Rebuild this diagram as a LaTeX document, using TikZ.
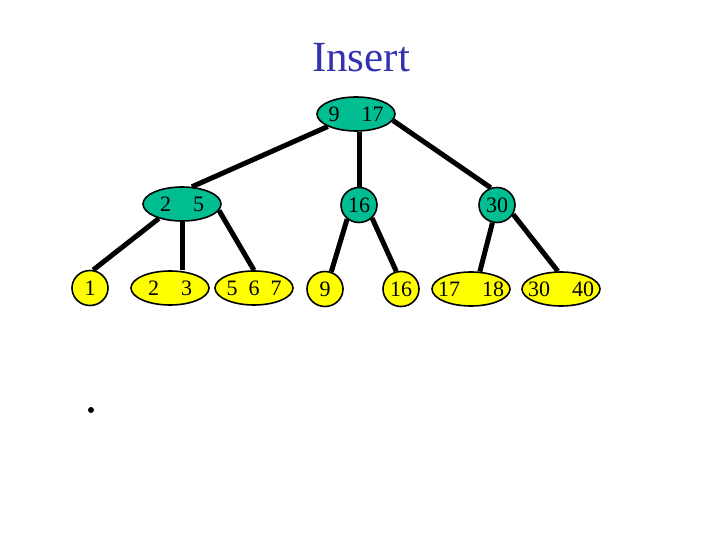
\documentclass[tikz,border=0pt]{standalone}
\usepackage{fontspec}
\setmainfont{Liberation Serif}
\usepackage{tikz}
\usetikzlibrary{shapes.geometric}
\definecolor{titleblue}{RGB}{51,51,175}
\definecolor{keygreen}{RGB}{0,190,145}
\definecolor{leafyellow}{RGB}{255,255,0}

\begin{document}
\begin{tikzpicture}[node distance=84pt]
\tikzstyle{inner} = [ellipse, minimum width=78pt, minimum height=34pt, inner xsep=-6pt, inner ysep=0pt, text centered, draw=black, line width=1.6pt, fill=keygreen, font=\fontsize{22}{24}\selectfont]
\tikzstyle{leaf} = [inner, fill=leafyellow]
\tikzstyle{small} = [minimum width=36pt, minimum height=35pt]
\useasboundingbox (0,0) rectangle (720pt,-540pt);

\node (k917) [inner] at (356pt,-114pt) {9\quad17};
\node (title) [above of=k917, yshift=-28pt, xshift=5pt, text=titleblue, font=\fontsize{43}{48}\selectfont] {Insert};
\node (k25) [inner, below of=k917, xshift=-174pt, yshift=-6pt] {2\quad5};
\node (k16) [inner, small, below of=k917, xshift=3pt, yshift=-7pt] {16};
\node (k30) [inner, small, below of=k917, xshift=141pt, yshift=-7pt] {30};

\node (l1) [leaf, small, below of=k25, xshift=-92pt] {1};
\node (l23) [leaf, below of=k25, xshift=-12pt] {2\quad3};
\node (l567) [leaf, below of=k25, xshift=72pt] {5\enspace6\enspace7};
\node (l9) [leaf, small, below of=k16, xshift=-34pt] {9};
\node (l16) [leaf, small, below of=k16, xshift=42pt] {16};
\node (l1718) [leaf, below of=k30, xshift=-26pt] {17\quad18};
\node (l3040) [leaf, below of=k30, xshift=64pt] {30\quad40};

\node (dot) [circle, fill=black, inner sep=0pt, minimum size=6pt, below of=l1, xshift=1pt, yshift=-38pt] {};

\draw[line width=5pt] (k917) -- (k25.60);
\draw[line width=5pt] (k16 |- k917.south) -- (k16);
\draw[line width=5pt] (k917.-10) -- (k30.110);
\draw[line width=5pt] (k25.-148) -- (l1.80);
\draw[line width=5pt] (k25) -- (k25 |- l23.north);
\draw[line width=5pt] (k25.-10) -- (l567.north);
\draw[line width=5pt] (k16.-130) -- (l9.70);
\draw[line width=5pt] (k16.-45) -- (l16.105);
\draw[line width=5pt] (k30) -- (l1718.63);
\draw[line width=5pt] (k30.-30) -- (l3040.100);

\end{tikzpicture}
\end{document}
